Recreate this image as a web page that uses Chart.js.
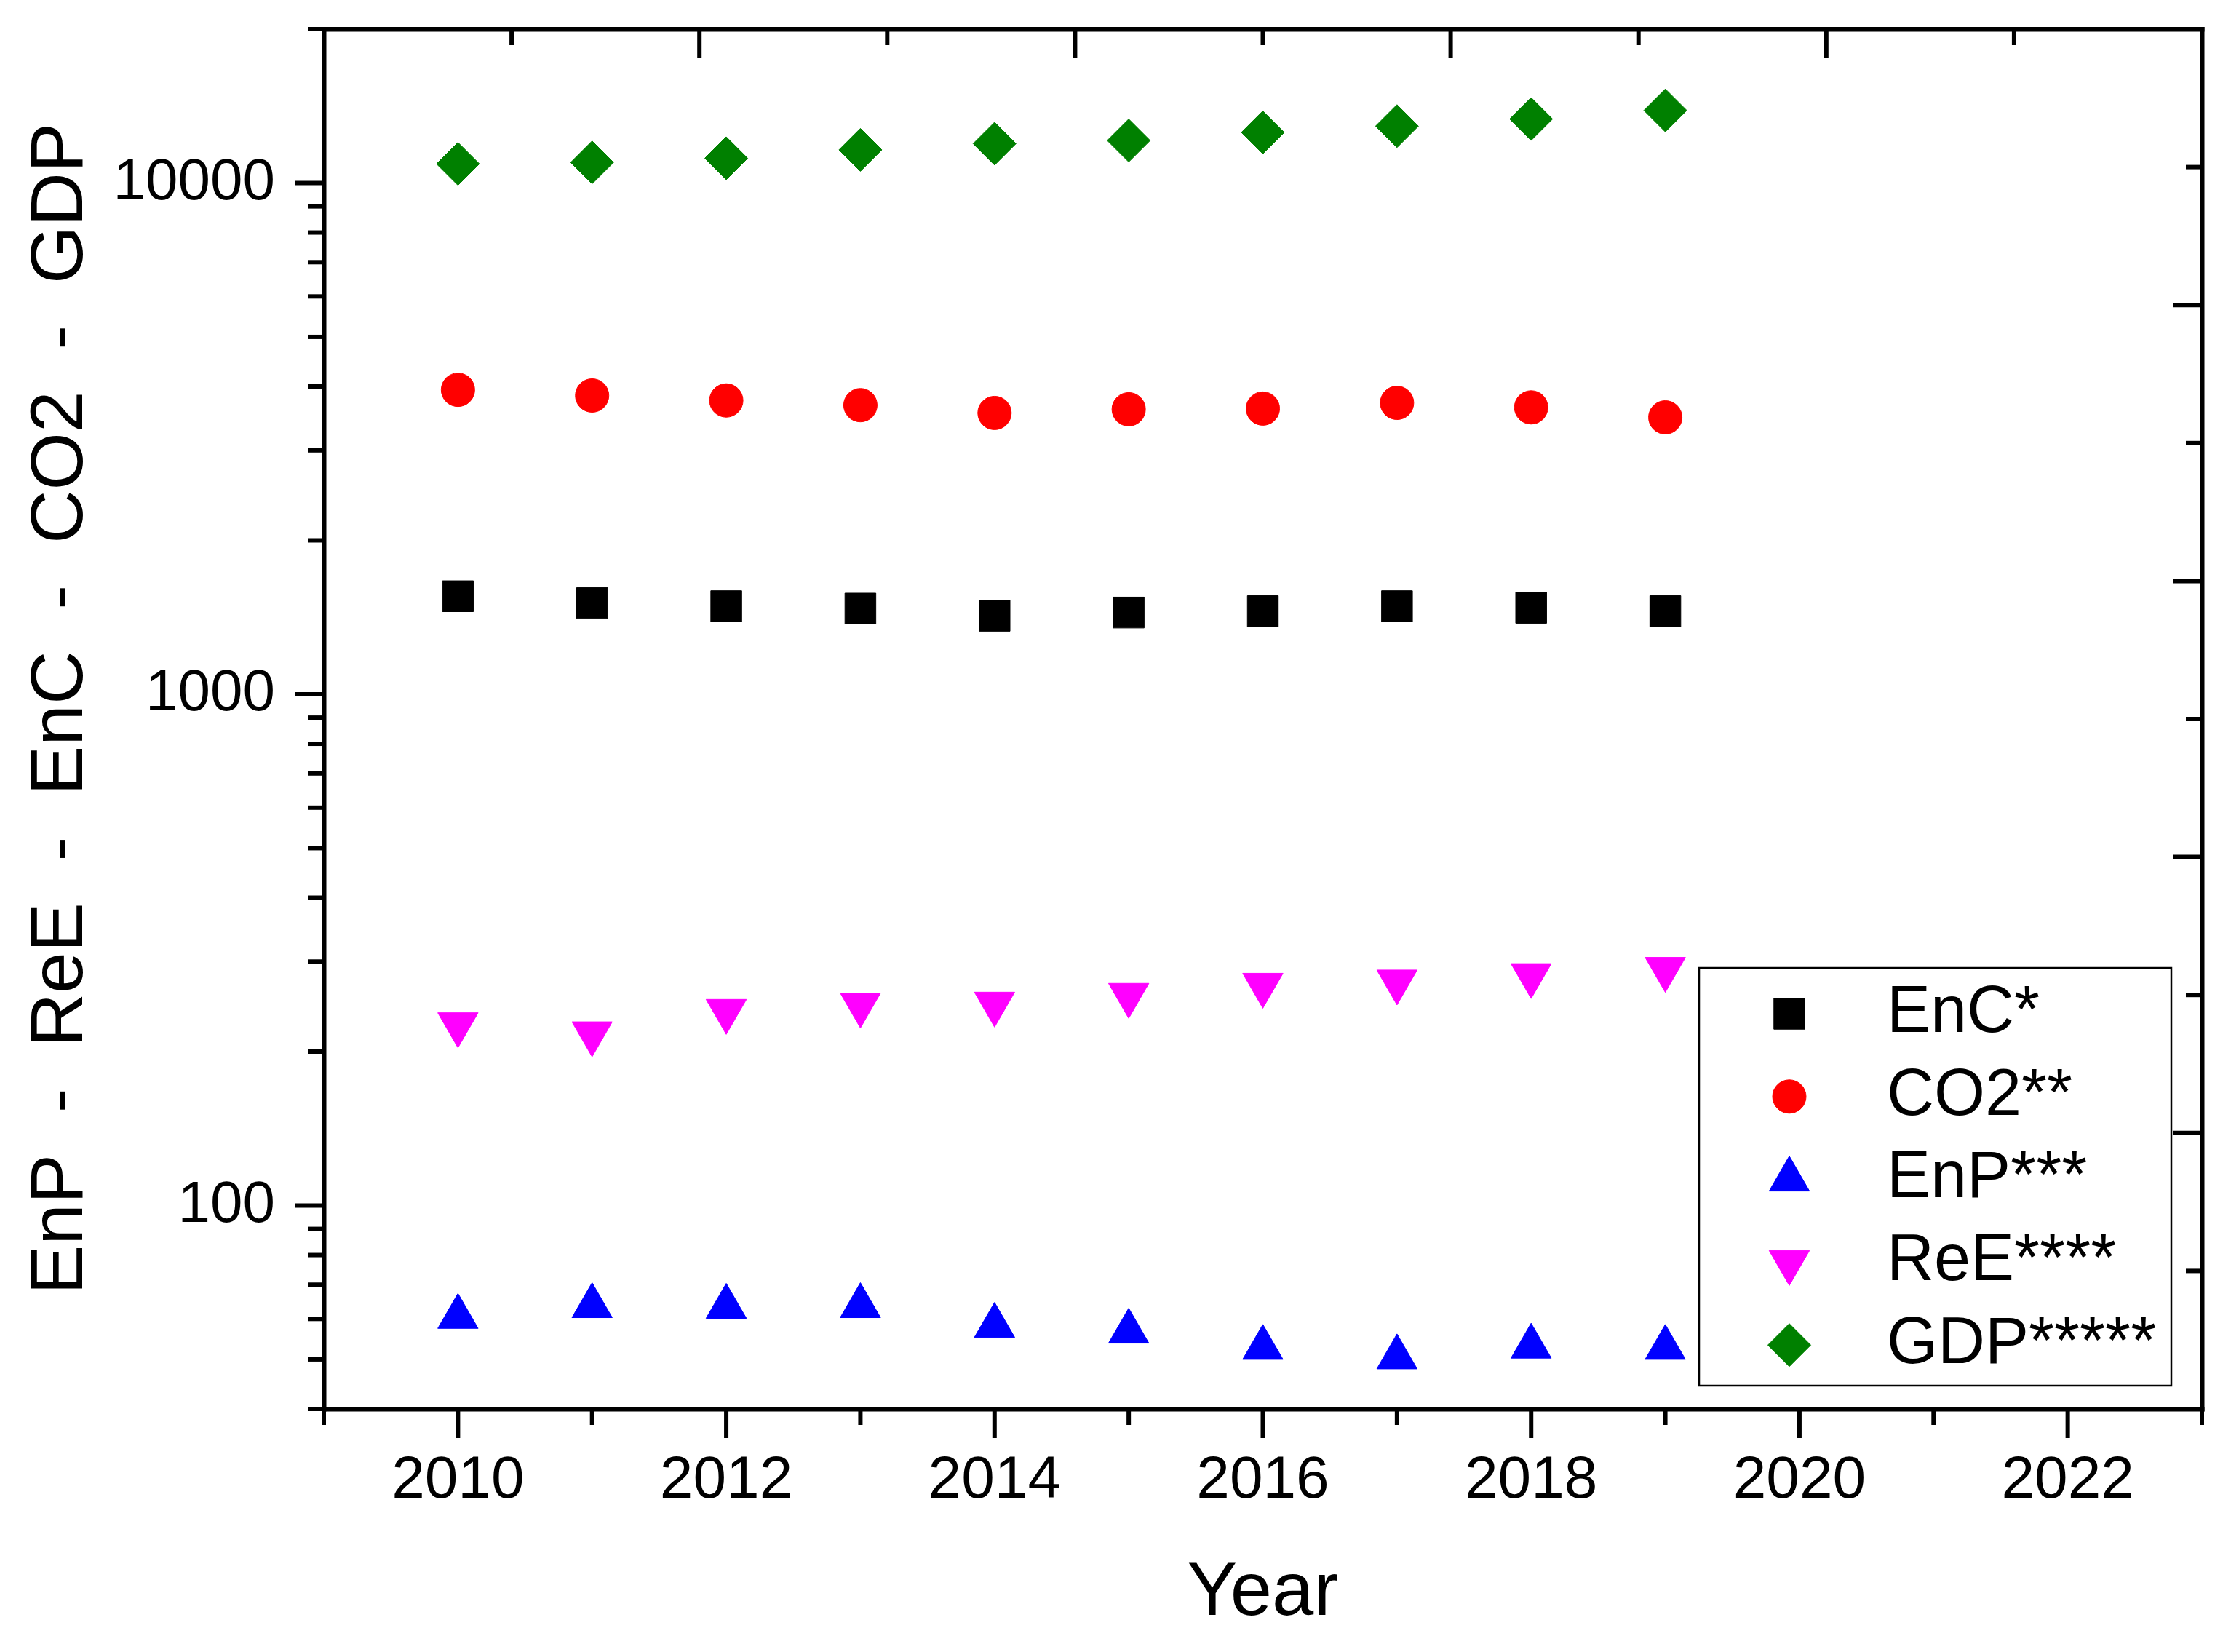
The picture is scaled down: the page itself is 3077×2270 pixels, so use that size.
<!DOCTYPE html>
<html>
<head>
<meta charset="utf-8">
<title>EnP - ReE - EnC - CO2 - GDP</title>
<script src="https://cdn.jsdelivr.net/npm/chart.js@4/dist/chart.umd.min.js"></script>
<style>
  html, body { margin: 0; padding: 0; background: #fff; }
  #grafica { width: 3077px; height: 2270px; }
</style>
</head>
<body>
<div id="grafica"><canvas id="lienzo" width="3077" height="2270"></canvas></div>
<script>
// datos
const anios = [2010, 2011, 2012, 2013, 2014, 2015, 2016, 2017, 2018, 2019];
const enc = [1555, 1508, 1487, 1471, 1424, 1445, 1454, 1487, 1476, 1454];
const co2 = [3940, 3840, 3756, 3677, 3550, 3609, 3621, 3715, 3640, 3480];
const enp = [60.6, 63.6, 63.4, 63.6, 58.2, 56.7, 52.7, 50.5, 53.0, 52.7];
const ree = [226, 217, 240, 247, 248, 258, 270, 274, 282, 290];
const gdp = [10900, 10970, 11180, 11610, 11940, 12110, 12560, 12920, 13340, 13870];

const etiquetasX = [2010, 2012, 2014, 2016, 2018, 2020, 2022];
const etiquetasY = [100, 1000, 10000];
const ticksY = [40, 50, 60, 70, 80, 90, 100, 200, 300, 400, 500, 600, 700, 800, 900,
    1000, 2000, 3000, 4000, 5000, 6000, 7000, 8000, 9000, 10000, 20000];

const fuente = '"Liberation Sans", Arial, sans-serif';
Chart.defaults.font.family = fuente;
Chart.defaults.color = '#000';

function puntos(valores) {
    return anios.map((a, i) => ({ x: a, y: valores[i] }));
}

function serie(nombre, valores, color, estilo, radio, giro) {
    return {
        label: nombre,
        data: puntos(valores),
        backgroundColor: color,
        borderColor: color,
        borderWidth: 1,
        pointStyle: estilo,
        pointRadius: radio,
        pointRotation: giro || 0
    };
}

// fija el tamaño de cada eje para que el area quede como en la figura
function fijar(escala, prop, valor) {
    escala[prop] = valor;
    escala.paddingLeft = 0;
    escala.paddingRight = 0;
    escala.paddingTop = 0;
    escala.paddingBottom = 0;
}

// marcas de los ejes: largas y cortas, como en Origin
const estiloMarcas = {
    x: v => v % 2 === 0,
    x2: v => v % 2 === 0,
    y: v => etiquetasY.includes(v),
    y2: v => v % 2 === 0
};

const marcas = {
    id: 'marcas',
    beforeDatasetsDraw(chart) {
        const ctx = chart.ctx;
        const area = chart.chartArea;
        ctx.save();
        ctx.strokeStyle = '#000';
        ctx.lineWidth = 6;
        Object.keys(estiloMarcas).forEach(id => {
            const escala = chart.scales[id];
            escala.ticks.forEach(t => {
                const p = escala.getPixelForValue(t.value);
                const largo = estiloMarcas[id](t.value) ? 40 : 22;
                ctx.beginPath();
                if (escala.isHorizontal()) {
                    const y0 = id === 'x' ? area.bottom : area.top;
                    ctx.moveTo(p, y0);
                    ctx.lineTo(p, y0 + largo);
                } else {
                    const x0 = id === 'y' ? area.left : area.right;
                    ctx.moveTo(x0, p);
                    ctx.lineTo(x0 - largo, p);
                }
                ctx.stroke();
            });
        });
        ctx.restore();
    }
};

const leyenda = {
    id: 'leyenda',
    afterDraw(chart) {
        const ctx = chart.ctx;
        const area = chart.chartArea;
        const ancho = 649, alto = 574;
        const x0 = area.right - 42 - ancho;
        const y0 = area.bottom - 32 - alto;
        ctx.save();
        ctx.fillStyle = '#fff';
        ctx.fillRect(x0, y0, ancho, alto);
        ctx.strokeStyle = '#000';
        ctx.lineWidth = 2.5;
        ctx.strokeRect(x0, y0, ancho, alto);
        ctx.font = '90px ' + fuente;
        ctx.textBaseline = 'middle';
        ctx.textAlign = 'left';
        chart.data.datasets.forEach((ds, i) => {
            const y = y0 + 63 + i * 113.8;
            ctx.fillStyle = ds.backgroundColor;
            ctx.strokeStyle = ds.borderColor;
            ctx.lineWidth = ds.borderWidth;
            Chart.helpers.drawPoint(ctx, {
                pointStyle: ds.pointStyle,
                rotation: ds.pointRotation,
                radius: ds.pointRadius,
                borderWidth: ds.borderWidth
            }, x0 + 124, y);
            ctx.fillStyle = '#000';
            ctx.fillText(ds.label, x0 + 258, y);
        });
        ctx.restore();
    }
};

const bordeEje = { display: true, color: '#000', width: 6.5 };
const sinRejilla = { display: false, drawTicks: false, lineWidth: 6.5 };

new Chart(document.getElementById('lienzo'), {
    type: 'scatter',
    data: {
        datasets: [
            serie('EnC*', enc, '#000000', 'rect', 30),
            serie('CO2**', co2, '#ff0000', 'circle', 23),
            serie('EnP***', enp, '#0000ff', 'triangle', 32),
            serie('ReE****', ree, '#ff00ff', 'triangle', 32, 180),
            serie('GDP*****', gdp, '#008000', 'rectRot', 29.5)
        ]
    },
    options: {
        responsive: false,
        animation: false,
        events: [],
        layout: { padding: 0 },
        plugins: {
            legend: { display: false },
            tooltip: { enabled: false }
        },
        scales: {
            x: {
                type: 'linear',
                position: 'bottom',
                min: 2009,
                max: 2023,
                grid: sinRejilla,
                border: bordeEje,
                ticks: {
                    stepSize: 1,
                    autoSkip: false,
                    maxRotation: 0,
                    padding: 50,
                    font: { size: 82 },
                    callback: v => etiquetasX.includes(v) ? String(v) : ''
                },
                title: {
                    display: true,
                    text: 'Year',
                    font: { size: 103 },
                    padding: { top: 0, bottom: 18 }
                },
                afterFit: s => fijar(s, 'height', 334)
            },
            x2: {
                type: 'linear',
                position: 'top',
                display: true,
                min: 0,
                max: 10,
                grid: sinRejilla,
                border: bordeEje,
                ticks: { display: false, stepSize: 1 },
                afterFit: s => fijar(s, 'height', 40)
            },
            y: {
                type: 'logarithmic',
                position: 'left',
                min: 40,
                max: 20000,
                grid: sinRejilla,
                border: bordeEje,
                afterBuildTicks: s => { s.ticks = ticksY.map(v => ({ value: v })); },
                ticks: {
                    autoSkip: false,
                    padding: 67,
                    font: { size: 80 },
                    callback: v => etiquetasY.includes(v) ? String(v) : ''
                },
                title: {
                    display: true,
                    text: ' EnP  -  ReE  -  EnC  -  CO2  -  GDP',
                    font: { size: 102 },
                    padding: { top: 24, bottom: 0 }
                },
                afterFit: s => fijar(s, 'width', 445)
            },
            y2: {
                type: 'linear',
                position: 'right',
                display: true,
                min: 0,
                max: 10,
                grid: sinRejilla,
                border: bordeEje,
                ticks: { display: false, stepSize: 1 },
                afterFit: s => fijar(s, 'width', 51)
            }
        }
    },
    plugins: [marcas, leyenda]
});
</script>
</body>
</html>
